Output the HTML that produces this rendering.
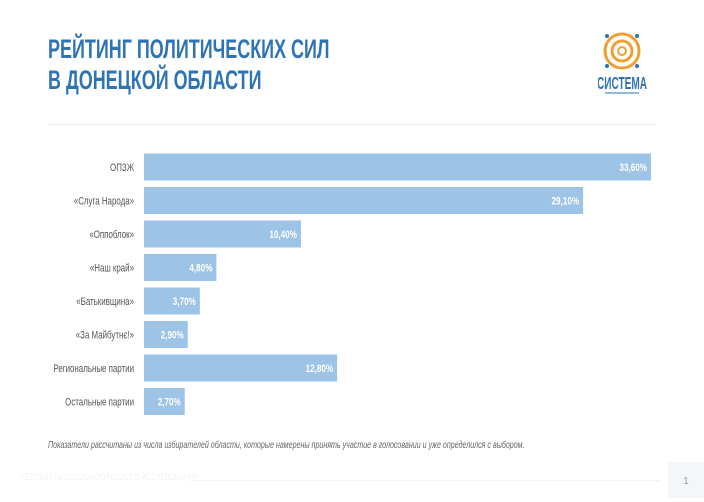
<!DOCTYPE html>
<html><head><meta charset="utf-8"><style>
body{margin:0;width:704px;height:498px;background:#fff;overflow:hidden;position:relative;font-family:"Liberation Sans",sans-serif}
.title{position:absolute;left:48px;top:34px;color:#2e74b5;font-weight:bold;font-size:27px;line-height:31px;transform:scaleX(0.665);transform-origin:0 0;white-space:nowrap}
.rule{position:absolute;left:48px;top:124px;width:608px;height:1px;background:#eceef0}
.note{position:absolute;left:48px;top:439px;font-size:10.5px;font-style:italic;color:#666;transform:scaleX(0.675);transform-origin:0 0;white-space:nowrap}
.foot{position:absolute;left:20px;top:472px;font-size:9px;color:#f0f2f6;transform:scaleX(0.75);transform-origin:0 0;white-space:nowrap}
.footline{position:absolute;left:190px;top:480px;width:470px;height:1px;background:#f2f4f7}
.pg{position:absolute;left:668px;top:462px;width:36px;height:36px;background:#f4f6fa;color:#999;font-size:10px;text-align:center;line-height:40px}
svg text{font-family:"Liberation Sans",sans-serif}
</style></head><body>
<div class="title">РЕЙТИНГ ПОЛИТИЧЕСКИХ СИЛ<br>В ДОНЕЦКОЙ ОБЛАСТИ</div>
<svg style="position:absolute;left:598px;top:30px" width="60" height="76">
<circle cx="24" cy="21" r="17" fill="none" stroke="#f0a030" stroke-width="3"/>
<circle cx="24" cy="21" r="10" fill="none" stroke="#f0a030" stroke-width="3"/>
<circle cx="24" cy="21" r="4" fill="none" stroke="#f0a030" stroke-width="2"/>
<circle cx="9" cy="6" r="2" fill="#2e74b5"/><circle cx="39" cy="6" r="2" fill="#2e74b5"/>
<circle cx="9" cy="36" r="2" fill="#2e74b5"/><circle cx="39" cy="36" r="2" fill="#2e74b5"/>
<text x="0" y="0" text-anchor="middle" font-size="14" font-weight="bold" fill="#2e74b5" transform="translate(24,59) scale(0.72,1.25)">СИСТЕМА</text>
<rect x="7" y="62" width="34" height="2" fill="#2e74b5" opacity="0.5"/>
</svg>
<div class="rule"></div>
<svg id="chart" style="position:absolute;left:0;top:0" width="704" height="430"></svg>
<div class="note">Показатели рассчитаны из числа избирателей области, которые намерены принять участие в голосовании и уже определился с выбором.</div>
<div class="foot">РЕЗУЛЬТАТЫ СОЦИОЛОГИЧЕСКОГО ИССЛЕДОВАНИЯ</div>
<div class="footline"></div>
<div class="pg">1</div>
<script>
const categories=["ОПЗЖ","«Слуга Народа»","«Оппоблок»","«Наш край»","«Батькивщина»","«За Майбутнє!»","Региональные партии","Остальные партии"];
const values=[33.6,29.1,10.4,4.8,3.7,2.9,12.8,2.7];
const valueLabels=["33,60%","29,10%","10,40%","4,80%","3,70%","2,90%","12,80%","2,70%"];
const svg=document.getElementById('chart');
const NS='http://www.w3.org/2000/svg';
const x0=144, pxPer=(651-144)/33.6;
const xs=v=>x0+v*pxPer;
const ys=i=>153.5+i*33.5;
const bh=27;
categories.forEach((c,i)=>{
  const r=document.createElementNS(NS,'rect');
  r.setAttribute('x',x0);r.setAttribute('y',ys(i));
  r.setAttribute('width',xs(values[i])-x0);r.setAttribute('height',bh);
  r.setAttribute('fill','#9dc3e6');
  
  
  svg.appendChild(r);
  const t=document.createElementNS(NS,'text');
  t.setAttribute('x',0);t.setAttribute('y',0);
  t.setAttribute('text-anchor','end');t.setAttribute('font-size','11');t.setAttribute('fill','#555');
  t.setAttribute('transform','translate(134,'+(ys(i)+bh/2+4)+') scale(0.72,1)');
  t.textContent=c;
  
  
  svg.appendChild(t);
  const v=document.createElementNS(NS,'text');
  v.setAttribute('x',0);v.setAttribute('y',0);
  v.setAttribute('text-anchor','end');v.setAttribute('font-size','11');v.setAttribute('font-weight','bold');v.setAttribute('fill','#fff');
  v.setAttribute('transform','translate('+(xs(values[i])-4)+','+(ys(i)+bh/2+4)+') scale(0.74,1)');
  v.textContent=valueLabels[i];
  
  
  svg.appendChild(v);
});
</script>
</body></html>
